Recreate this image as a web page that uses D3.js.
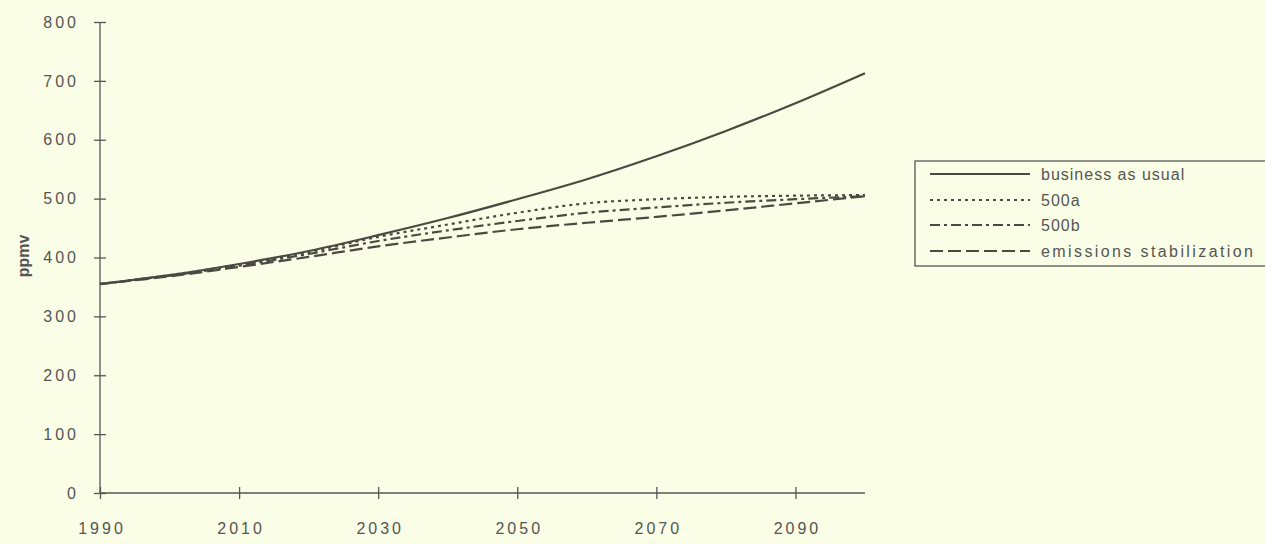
<!DOCTYPE html>
<html>
<head>
<meta charset="UTF-8">
<style>
body { margin:0; background:#fbfee6; }
svg { display:block; }
.tick text { font-family: "Liberation Sans", Arial, sans-serif; font-size:16px; fill:#555; letter-spacing:3px; }
.axis path, .axis line { stroke:#555; stroke-width:1.3px; }
.line { fill:none; stroke:#4a4a42; stroke-width:2.2px; }
.leg text { font-family: "Liberation Sans", Arial, sans-serif; font-size:16px; fill:#555; letter-spacing:1px; }
</style>
</head>
<body>
<svg width="1265" height="544"></svg>
<script src="https://cdn.jsdelivr.net/npm/d3@7"></script>
<script>
var years = [1990, 2000, 2010, 2020, 2030, 2040, 2050, 2060, 2070, 2080, 2090, 2100];
var bau   = [355, 370, 389, 411, 438, 467, 499, 533, 572, 615, 662, 713];
var s500a = [355, 370, 388, 409, 435, 456, 476, 492, 499, 503, 505, 506];
var s500b = [355, 369, 386, 406, 428, 446, 462, 476, 485, 493, 499, 504];
var stab  = [355, 368, 384, 401, 419, 434, 448, 459, 469, 480, 492, 504];
var names = ["business as usual", "500a", "500b", "emissions stabilization"];
var dashes = [null, "3,4", "10,4,3,4", "13,5"];
var yTicks = [0, 100, 200, 300, 400, 500, 600, 700, 800];
var xTicks = [1990, 2010, 2030, 2050, 2070, 2090];

var series = [bau, s500a, s500b, stab].map(function(vals, i) {
  return { name: names[i], dash: dashes[i],
    values: years.map(function(y, j) { return { year: y, v: vals[j] }; }) };
});

var svg = d3.select("svg");
var x = d3.scaleLinear().domain([1990, 2100]).range([100, 865]);
var y = d3.scaleLinear().domain([0, 800]).range([493, 22]);

// axes, ticks cross the line
svg.append("g").attr("class", "axis")
    .attr("transform", "translate(100,0)")
    .call(d3.axisLeft(y).tickValues(yTicks).tickSizeInner(6).tickSizeOuter(0).tickPadding(15))
  .call(function(g) {
    g.selectAll(".tick line").attr("x1", 6).attr("x2", -6);
    g.select(".domain").attr("d", "M0," + y(0) + "V" + y(800));
  });

svg.append("g").attr("class", "axis")
    .attr("transform", "translate(0," + y(0) + ")")
    .call(d3.axisBottom(x).tickValues(xTicks).tickFormat(d3.format("d")).tickSizeInner(6).tickSizeOuter(0).tickPadding(24))
  .call(function(g) {
    g.selectAll(".tick line").attr("y1", -6).attr("y2", 6);
    g.selectAll(".tick text").attr("dx", "1.5px");
    g.select(".domain").attr("d", "M" + x(1990) + ",0H" + x(2100));
  });

svg.append("text")
    .attr("transform", "translate(29,256) rotate(-90)")
    .attr("text-anchor", "middle")
    .style("font-family", "Liberation Sans, Arial, sans-serif")
    .style("font-size", "16px").style("font-weight", "bold").style("fill", "#555")
    .text("ppmv");

var line = d3.line().curve(d3.curveMonotoneX)
    .x(function(d) { return x(d.year); })
    .y(function(d) { return y(d.v); });

svg.selectAll(".line").data(series).enter().append("path")
    .attr("class", "line")
    .attr("d", function(d) { return line(d.values); })
    .attr("stroke-dasharray", function(d) { return d.dash; });

// legend
var leg = svg.append("g").attr("class", "leg");
leg.append("rect").attr("x", 915).attr("y", 161).attr("width", 360).attr("height", 105)
    .attr("fill", "none").attr("stroke", "#555").attr("stroke-width", 1.3);
var rows = leg.selectAll(".row").data(series).enter().append("g")
    .attr("transform", function(d, i) { return "translate(0," + [174, 200, 225, 251][i] + ")"; });
rows.append("line").attr("class", "line").attr("x1", 930).attr("x2", 1030)
    .attr("stroke-width", 1.5)
    .attr("stroke-dasharray", function(d) { return d.dash; });
rows.append("text").attr("x", 1041).attr("dy", "0.35em")
    .style("letter-spacing", function(d, i) { return i === 3 ? "2.4px" : null; })
    .text(function(d) { return d.name; });
</script>
</body>
</html>
